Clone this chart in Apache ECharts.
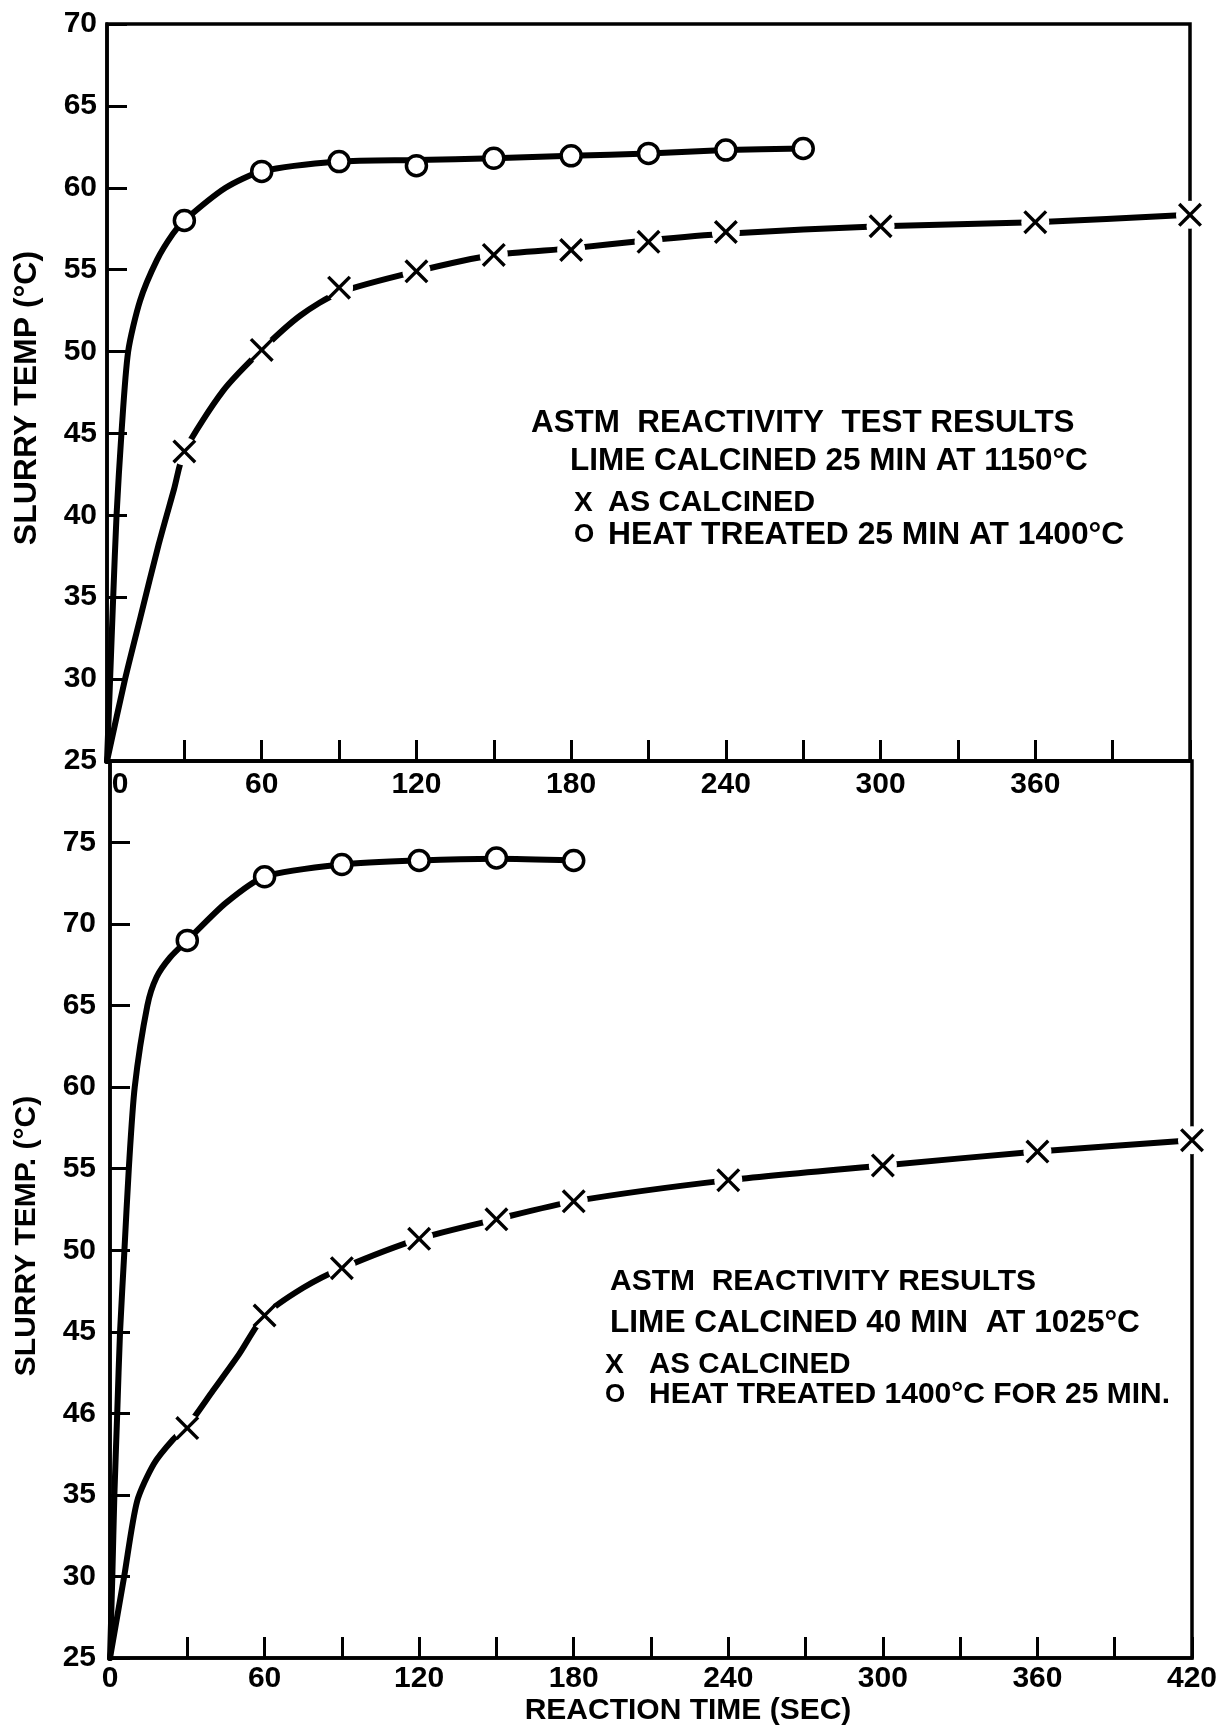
<!DOCTYPE html>
<html>
<head>
<meta charset="utf-8">
<script src="https://cdn.jsdelivr.net/npm/echarts@6.0.0/dist/echarts.min.js"></script>
<style>
html, body { margin: 0; padding: 0; background: #fff; }
#chart { width: 1225px; height: 1731px; }
</style>
</head>
<body>
<div id="chart"></div>
<script>
// tick labels
const topTimeLabels = ['0', '60', '120', '180', '240', '300', '360']
const bottomTimeLabels = ['0', '60', '120', '180', '240', '300', '360', '420']
const topTempLabels = ['25', '30', '35', '40', '45', '50', '55', '60', '65', '70']
const bottomTempLabels = ['25', '30', '35', '46', '45', '50', '55', '60', '65', '70', '75']

// upper panel: lime calcined 25 min at 1150 C  [time s, temp C]
const topHeatMarks = [[30, 58.0], [60, 61.0], [90, 61.6], [120, 61.35], [150, 61.8], [180, 61.95], [210, 62.1], [240, 62.3], [270, 62.4]]
const topHeatCurve = [[0, 25], [1.2, 30], [2.4, 35], [3.7, 40], [5.6, 45], [8.2, 50], [12.8, 53.1], [19.4, 55.6], [25.6, 57.2], [30, 58], [46, 60], [60, 61], [90, 61.6], [120, 61.7], [150, 61.8], [180, 61.95], [210, 62.1], [240, 62.3], [270, 62.4]]
const topCalcMarks = [[30, 43.9], [60, 50.1], [90, 53.9], [120, 54.9], [150, 55.9], [180, 56.2], [210, 56.7], [240, 57.3], [300, 57.65], [360, 57.9], [420, 58.35]]
const topCalcCurve = [[0, 25], [7, 30], [13, 33.8], [20, 38.2], [26, 41.6], [30, 43.9], [45, 47.6], [60, 50.1], [75, 52.2], [90, 53.6], [120, 54.9], [150, 55.9], [180, 56.3], [210, 56.8], [240, 57.2], [300, 57.65], [360, 57.9], [420, 58.35]]

// lower panel: lime calcined 40 min at 1025 C
const bottomHeatMarks = [[30, 69.0], [60, 72.9], [90, 73.65], [120, 73.9], [150, 74.05], [180, 73.9]]
const bottomHeatCurve = [[0, 25], [0.9, 30], [1.7, 35], [2.8, 40], [3.9, 45], [5.6, 50], [7.3, 55], [9.6, 60], [14.5, 65], [18.1, 66.75], [23.3, 67.95], [30, 69], [45, 71.3], [60, 72.9], [90, 73.65], [120, 73.9], [150, 74.0], [180, 73.9]]
const bottomCalcMarks = [[30, 39.1], [60, 46.0], [90, 48.9], [120, 50.7], [150, 51.9], [180, 53.0], [240, 54.3], [300, 55.2], [360, 56.05], [420, 56.75]]
const bottomCalcCurve = [[0, 25], [5.5, 30], [10.5, 34.6], [17, 36.9], [24.5, 38.4], [30, 39.2], [40, 41.4], [50, 43.6], [60, 46.0], [75, 47.7], [90, 48.9], [120, 50.7], [150, 51.9], [180, 53.0], [240, 54.3], [300, 55.2], [360, 56.05], [420, 56.75]]

const FONT = '"Liberation Sans", Arial, sans-serif'
const xSymbol = 'path://M1,0 L5,4 L9,0 L10,1 L6,5 L10,9 L9,10 L5,6 L1,10 L0,9 L4,5 L0,1 Z'

function timeAxis(gridIndex, labels, margin, shiftZero) {
    return {
        type: 'value',
        gridIndex: gridIndex,
        min: 0,
        max: 420,
        interval: 30,
        axisLine: { show: true, onZero: false, lineStyle: { color: '#000', width: 3.5 } },
        axisTick: { show: true, inside: true, length: 21, lineStyle: { color: '#000', width: 3 } },
        splitLine: { show: false },
        axisLabel: {
            margin: margin,
            color: '#000',
            fontFamily: FONT,
            fontWeight: 'bold',
            fontSize: 30,
            showMinLabel: true,
            showMaxLabel: true,
            formatter: function (v) {
                if (v % 60) return ''
                let s = labels[v / 60]
                if (s === undefined) return ''
                if (v === 0 && shiftZero) return '{z|' + s + '}'
                return s
            },
            rich: {
                z: { padding: [0, 0, 0, 26], color: '#000', fontFamily: FONT, fontWeight: 'bold', fontSize: 30 }
            }
        }
    }
}

function tempAxis(gridIndex, max, labels, margin) {
    return {
        type: 'value',
        gridIndex: gridIndex,
        min: 25,
        max: max,
        interval: 5,
        axisLine: { show: true, onZero: false, lineStyle: { color: '#000', width: 3.5 } },
        axisTick: { show: true, inside: true, length: 20, lineStyle: { color: '#000', width: 3 } },
        splitLine: { show: false },
        axisLabel: {
            margin: margin,
            color: '#000',
            fontFamily: FONT,
            fontWeight: 'bold',
            fontSize: 30,
            showMinLabel: true,
            showMaxLabel: true,
            formatter: function (v) {
                let s = labels[Math.round((v - 25) / 5)]
                return s === undefined ? '' : s
            }
        }
    }
}

function curve(idx, data) {
    return {
        type: 'line', xAxisIndex: idx, yAxisIndex: idx, data: data,
        smooth: 0.25, symbol: 'none', showSymbol: false, silent: true, z: 2,
        lineStyle: { color: '#000', width: 6, cap: 'round', join: 'round' }
    }
}

function crosses(idx, data) {
    return [{
        type: 'scatter', xAxisIndex: idx, yAxisIndex: idx, data: data, silent: true, z: 3,
        symbol: 'circle', symbolSize: 28, itemStyle: { color: '#fff', opacity: 1 }
    }, {
        type: 'scatter', xAxisIndex: idx, yAxisIndex: idx, data: data, silent: true, z: 4,
        symbol: xSymbol, symbolSize: 24, itemStyle: { color: '#000', opacity: 1 }
    }]
}

function rings(idx, data) {
    return {
        type: 'scatter', xAxisIndex: idx, yAxisIndex: idx, data: data, silent: true, z: 4,
        symbol: 'circle', symbolSize: 20,
        itemStyle: { color: '#fff', borderColor: '#000', borderWidth: 3.5, opacity: 1 }
    }
}

function label(x, y, text, size) {
    return {
        type: 'text', x: x, y: y, silent: true, z: 10,
        style: { text: text, fill: '#000', font: 'bold ' + size + 'px ' + FONT, verticalAlign: 'middle' }
    }
}

function vTitle(x, y, text, size) {
    return {
        type: 'text', x: x, y: y, rotation: Math.PI / 2, silent: true, z: 10,
        style: { text: text, fill: '#000', font: 'bold ' + size + 'px ' + FONT, align: 'center', verticalAlign: 'middle' }
    }
}

let chart = echarts.init(document.getElementById('chart'), null, { renderer: 'canvas' })

const option = {
    backgroundColor: '#fff',
    animation: false,
    grid: [
        { left: 107, top: 24, width: 1083, height: 737, show: true, borderColor: '#000', borderWidth: 3.5, backgroundColor: 'transparent' },
        { left: 110, top: 761, width: 1082, height: 897, show: true, borderColor: '#000', borderWidth: 3.5, backgroundColor: 'transparent' }
    ],
    xAxis: [
        timeAxis(0, topTimeLabels, 9, true),
        timeAxis(1, bottomTimeLabels, 6, false)
    ],
    yAxis: [
        tempAxis(0, 70, topTempLabels, 10),
        tempAxis(1, 80, bottomTempLabels, 14)
    ],
    series: [
        curve(0, topHeatCurve),
        curve(0, topCalcCurve),
        ...crosses(0, topCalcMarks),
        rings(0, topHeatMarks),
        curve(1, bottomHeatCurve),
        curve(1, bottomCalcCurve),
        ...crosses(1, bottomCalcMarks),
        rings(1, bottomHeatMarks)
    ],
    graphic: [
        vTitle(27, 398, 'SLURRY TEMP (°C)', 32),
        vTitle(27, 1236, 'SLURRY TEMP. (°C)', 30),
        {
            type: 'text', x: 688, y: 1711, silent: true,
            style: { text: 'REACTION TIME (SEC)', fill: '#000', font: 'bold 30px ' + FONT, align: 'center', verticalAlign: 'middle' }
        },
        label(531, 423, 'ASTM  REACTIVITY  TEST RESULTS', 31.4),
        label(570, 461, 'LIME CALCINED 25 MIN AT 1150°C', 31.5),
        label(574, 503, 'X', 28),
        label(608, 503, 'AS CALCINED', 30.3),
        label(574, 535, 'O', 26),
        label(608, 535, 'HEAT TREATED 25 MIN AT 1400°C', 31.8),
        label(610, 1282, 'ASTM  REACTIVITY RESULTS', 30),
        label(610, 1323, 'LIME CALCINED 40 MIN  AT 1025°C', 31.6),
        label(605, 1365, 'X', 28),
        label(649, 1365, 'AS CALCINED', 29.5),
        label(605, 1395, 'O', 26),
        label(649, 1395, 'HEAT TREATED 1400°C FOR 25 MIN.', 30)
    ]
}

chart.setOption(option)
</script>
</body>
</html>
